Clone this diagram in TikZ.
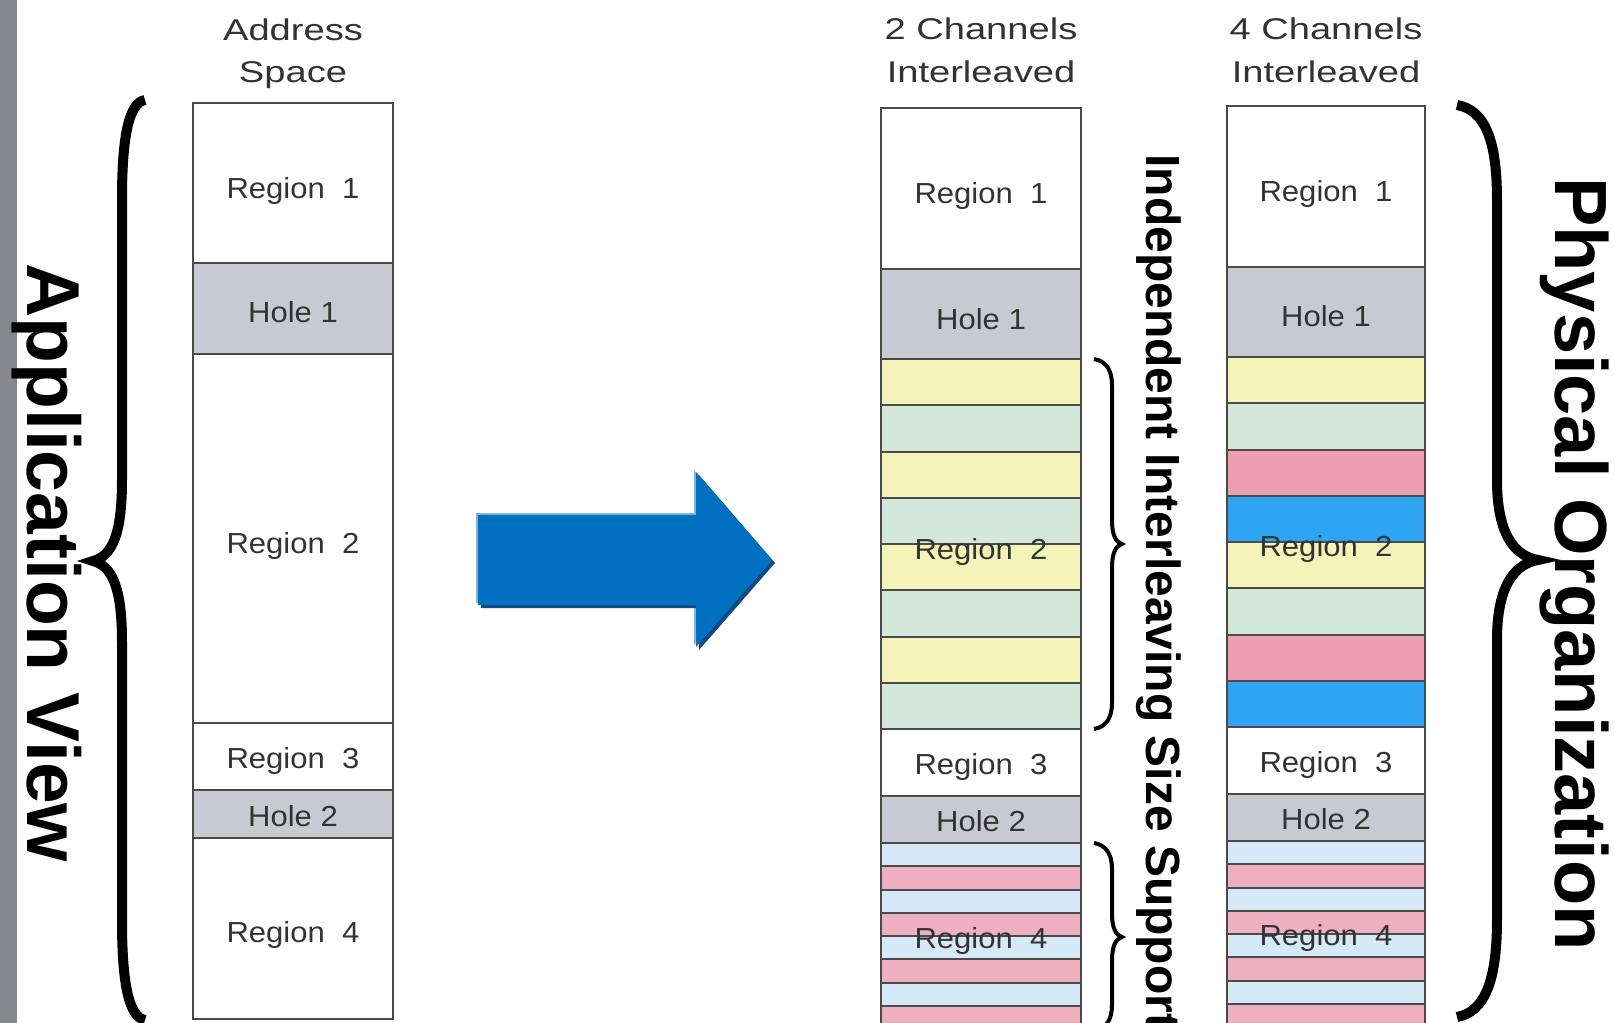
\documentclass[tikz,border=0pt]{standalone}
\usepackage{fontspec}
\setmainfont{Liberation Sans}
\newfontfamily\cellfont{Liberation Sans}[FakeStretch=1.07]
\newfontfamily\headfont{Liberation Sans}[FakeStretch=1.27]

\definecolor{sidebar}{HTML}{85878A}
\definecolor{linegray}{HTML}{4A4A4A}
\definecolor{txtgray}{HTML}{333333}
\definecolor{holegray}{HTML}{C8C9D2}
\definecolor{chyellow}{HTML}{F5F4B8}
\definecolor{chgreen}{HTML}{D3E7DA}
\definecolor{chpink}{HTML}{EE9DB2}
\definecolor{chblue}{HTML}{2EA5F2}
\definecolor{lowblue}{HTML}{D5E9F6}
\definecolor{lowpink}{HTML}{EEAFC0}
\definecolor{arrowmain}{HTML}{0070C0}
\definecolor{arrowlight}{HTML}{80B3DE}
\definecolor{arrowdark}{HTML}{0D4A86}

% outline of the block arrow between the two views
\newcommand\blockarrowpath{(478,515) -- (696,515) -- (696,472) -- (772,560) -- (696,647) -- (696,605) -- (478,605) -- cycle}

\begin{document}
\begin{tikzpicture}[x=0.5pt,y=-0.5pt,
  seg/.style={draw=linegray, line width=1pt},
  celltext/.style={anchor=base, inner sep=0pt, text=txtgray,
    font=\cellfont\fontsize{14.5}{16}\selectfont},
  headtext/.style={anchor=base, inner sep=0pt, text=txtgray,
    font=\headfont\fontsize{15}{17}\selectfont},
  sidelabel/.style={rotate=-90, anchor=base west, inner sep=0pt, text=black},
  bigbrace/.style={draw=black, line width=5pt},
  smallbrace/.style={draw=black, line width=2pt}]

\useasboundingbox (0,0) rectangle (1614,1023);
\clip (0,0) rectangle (1614,1023);
\fill[white] (0,0) rectangle (1614,1023);
\fill[sidebar] (0,0) rectangle (17,1023);

% ---------- address space ----------
\filldraw[seg, fill=white]    (193,103) rectangle (393,263);
\filldraw[seg, fill=holegray] (193,263) rectangle (393,354);
\filldraw[seg, fill=white]    (193,354) rectangle (393,723);
\filldraw[seg, fill=white]    (193,723) rectangle (393,790);
\filldraw[seg, fill=holegray] (193,790) rectangle (393,838);
\filldraw[seg, fill=white]    (193,838) rectangle (393,1019);

\node[celltext] (a1)  at (293,198) {Region~~1};
\node[celltext] (ah1) at (293,322) {Hole 1};
\node[celltext] (a2)  at (293,553) {Region~~2};
\node[celltext] (a3)  at (293,768) {Region~~3};
\node[celltext] (ah2) at (293,826) {Hole 2};
\node[celltext] (a4)  at (293,942) {Region~~4};

% ---------- two channels ----------
\filldraw[seg, fill=white]    (881,108) rectangle (1081,269);
\filldraw[seg, fill=holegray] (881,269) rectangle (1081,359);
\foreach \c [count=\i from 0] in {chyellow,chgreen,chyellow,chgreen,chyellow,chgreen,chyellow,chgreen}
  \filldraw[seg, fill=\c] (881,{359+\i*46.25}) rectangle (1081,{405.25+\i*46.25});
\filldraw[seg, fill=white]    (881,729) rectangle (1081,796);
\filldraw[seg, fill=holegray] (881,796) rectangle (1081,843);
\foreach \c [count=\i from 0] in {lowblue,lowpink,lowblue,lowpink,lowblue,lowpink,lowblue,lowpink}
  \filldraw[seg, fill=\c] (881,{843+\i*23.25}) rectangle (1081,{866.25+\i*23.25});

\node[celltext] (b1)  at (981,203) {Region~~1};
\node[celltext] (bh1) at (981,329) {Hole 1};
\node[celltext] (b2)  at (981,559) {Region~~2};
\node[celltext] (b3)  at (981,774) {Region~~3};
\node[celltext] (bh2) at (981,831) {Hole 2};
\node[celltext] (b4)  at (981,948) {Region~~4};

% ---------- four channels ----------
\filldraw[seg, fill=white]    (1227,106) rectangle (1425,267);
\filldraw[seg, fill=holegray] (1227,267) rectangle (1425,357);
\foreach \c [count=\i from 0] in {chyellow,chgreen,chpink,chblue,chyellow,chgreen,chpink,chblue}
  \filldraw[seg, fill=\c] (1227,{357+\i*46.25}) rectangle (1425,{403.25+\i*46.25});
\filldraw[seg, fill=white]    (1227,727) rectangle (1425,794);
\filldraw[seg, fill=holegray] (1227,794) rectangle (1425,841);
\foreach \c [count=\i from 0] in {lowblue,lowpink,lowblue,lowpink,lowblue,lowpink,lowblue,lowpink}
  \filldraw[seg, fill=\c] (1227,{841+\i*23.25}) rectangle (1425,{864.25+\i*23.25});

\node[celltext] (c1)  at (1326,201) {Region~~1};
\node[celltext] (ch1) at (1326,326) {Hole 1};
\node[celltext] (c2)  at (1326,556) {Region~~2};
\node[celltext] (c3)  at (1326,772) {Region~~3};
\node[celltext] (ch2) at (1326,829) {Hole 2};
\node[celltext] (c4)  at (1326,945) {Region~~4};

% ---------- column headings ----------
\node[headtext] (hA1) at (293,40)  {Address};
\node[headtext] (hA2) at (293,82)  {Space};
\node[headtext] (hB1) at (981,39)  {2 Channels};
\node[headtext] (hB2) at (981,82)  {Interleaved};
\node[headtext] (hC1) at (1326,39) {4 Channels};
\node[headtext] (hC2) at (1326,82) {Interleaved};

% ---------- block arrow ----------
\fill[arrowlight, shift={(-2,-2)}] \blockarrowpath;
\fill[arrowdark, shift={(3,3)}] \blockarrowpath;
\fill[arrowmain] \blockarrowpath;

% ---------- braces ----------
\draw[bigbrace] (145,100) .. controls (128,103) and (122,140) .. (122,200)
  -- (122,480) .. controls (122,535) and (112,556) .. (93,561)
  .. controls (112,566) and (122,587) .. (122,642)
  -- (122,920) .. controls (122,980) and (128,1017) .. (145,1020);

\draw[bigbrace] (1457,105) .. controls (1485,110) and (1497,140) .. (1497,200)
  -- (1497,480) .. controls (1497,535) and (1515,556) .. (1538,560)
  .. controls (1515,564) and (1497,585) .. (1497,640)
  -- (1497,920) .. controls (1497,980) and (1485,1012) .. (1457,1017);

\draw[smallbrace] (1094,359) .. controls (1106,361) and (1112,370) .. (1112,385)
  -- (1112,520) .. controls (1112,536) and (1116,542) .. (1122,544)
  .. controls (1116,546) and (1112,552) .. (1112,568)
  -- (1112,703) .. controls (1112,718) and (1106,727) .. (1094,729);

\draw[smallbrace] (1094,843) .. controls (1106,845) and (1112,854) .. (1112,869)
  -- (1112,913) .. controls (1112,929) and (1116,935) .. (1122,937)
  .. controls (1116,939) and (1112,945) .. (1112,961)
  -- (1112,1005) .. controls (1112,1020) and (1106,1029) .. (1094,1031);

% ---------- side labels ----------
\node[sidelabel, font=\bfseries\fontsize{37.5}{40}\selectfont] (appview) at (27,263) {Application View};
\node[sidelabel, font=\bfseries\fontsize{37}{40}\selectfont] (physorg) at (1555,177) {Physical Organization};
\node[sidelabel, font=\bfseries\fontsize{24}{26}\selectfont] (indep) at (1146,154) {Independent Interleaving Size Support};

\end{tikzpicture}
\end{document}
